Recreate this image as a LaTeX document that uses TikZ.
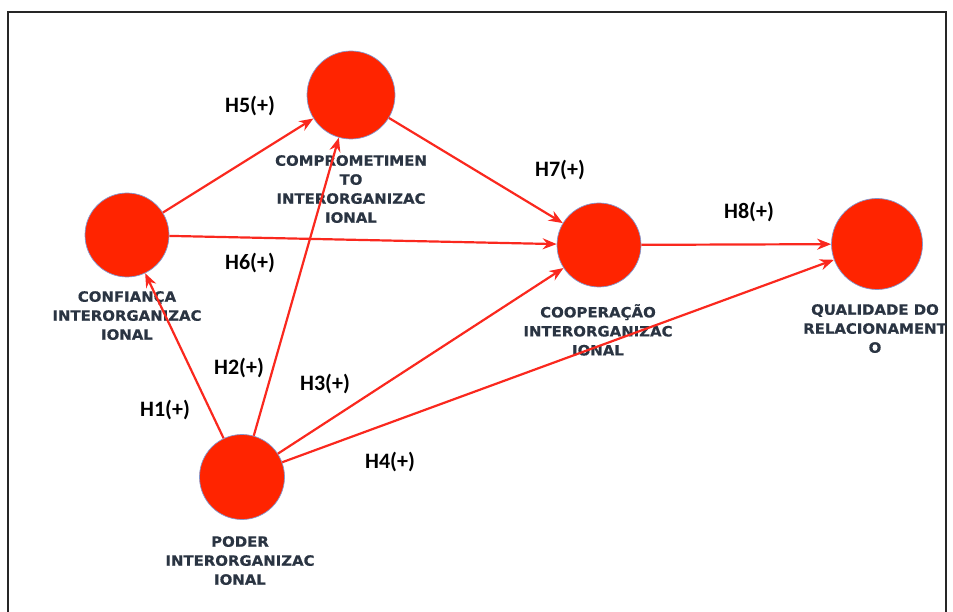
\documentclass[tikz,border=0pt]{standalone}
\usepackage{fontspec}
\usetikzlibrary{arrows.meta}
\newfontfamily\hypfont{Carlito}
\newfontfamily\conceptfont{DejaVu Sans}[FakeStretch=1.05,FakeBold=0.6]
\definecolor{nodered}{RGB}{255,36,0}
\definecolor{edgered}{RGB}{250,40,30}
\definecolor{rimblue}{RGB}{130,150,205}
\definecolor{labelgray}{RGB}{42,52,66}
\begin{document}
\begin{tikzpicture}[x=1pt,y=-1pt,
  construct/.style={circle,fill=nodered,draw=rimblue,line width=0.7pt,inner sep=0pt,minimum size=#1},
  construct/.default=86pt,
  caption/.style={align=center,text=labelgray,font=\conceptfont\bfseries\fontsize{14.2}{19}\selectfont,inner sep=0pt,anchor=north},
  hyp/.style={font=\hypfont\bfseries\fontsize{22}{24}\selectfont,text=black,inner sep=0pt},
  path/.style={draw=edgered,line width=2.2pt,-{Stealth[length=14pt,width=11pt]}}]
\useasboundingbox (0,0) rectangle (953,612);
% frame
\draw[line width=2pt,black!85] (8,612) -- (8,12) -- (946,12) -- (946,612);

% construct captions
\node[caption] (tcomp) at (351,155) {COMPROMETIMEN\\TO\\INTERORGANIZAC\\IONAL};
\node[caption] (tconf) at (127,291) {CONFIANÇA\\INTERORGANIZAC\\IONAL};
\node[caption] (tcoop) at (598,304) {COOPERAÇÃO\\INTERORGANIZAC\\IONAL};
\node[caption] (tqual) at (875,304) {QUALIDADE DO\\RELACIONAMENT\\O};
\node[caption] (tpod) at (240,536) {PODER\\INTERORGANIZAC\\IONAL};

% constructs
\node[construct=88pt] (comp) at (351,95) {};
\node[construct=84pt] (conf) at (127,235) {};
\node[construct=84pt] (coop) at (599,245) {};
\node[construct=91pt] (qual) at (877,244) {};
\node[construct=85pt] (pod) at (242,477) {};

% hypothesised paths
\draw[path] (pod) -- (conf);
\draw[path] (pod) -- (comp);
\draw[path] (pod) -- (coop);
\draw[path] (pod) -- (qual);
\draw[path] (conf) -- (comp);
\draw[path] (conf) -- (coop);
\draw[path] (comp) -- (coop);
\draw[path] (coop) -- (qual);

% hypothesis labels
\node[hyp] (h1) at (165,410) {H1(+)};
\node[hyp] (h2) at (239,368) {H2(+)};
\node[hyp] (h3) at (325,384) {H3(+)};
\node[hyp] (h4) at (390,462) {H4(+)};
\node[hyp] (h5) at (250,106) {H5(+)};
\node[hyp] (h6) at (250,263) {H6(+)};
\node[hyp] (h7) at (560,170) {H7(+)};
\node[hyp] (h8) at (749,212) {H8(+)};
\end{tikzpicture}
\end{document}
